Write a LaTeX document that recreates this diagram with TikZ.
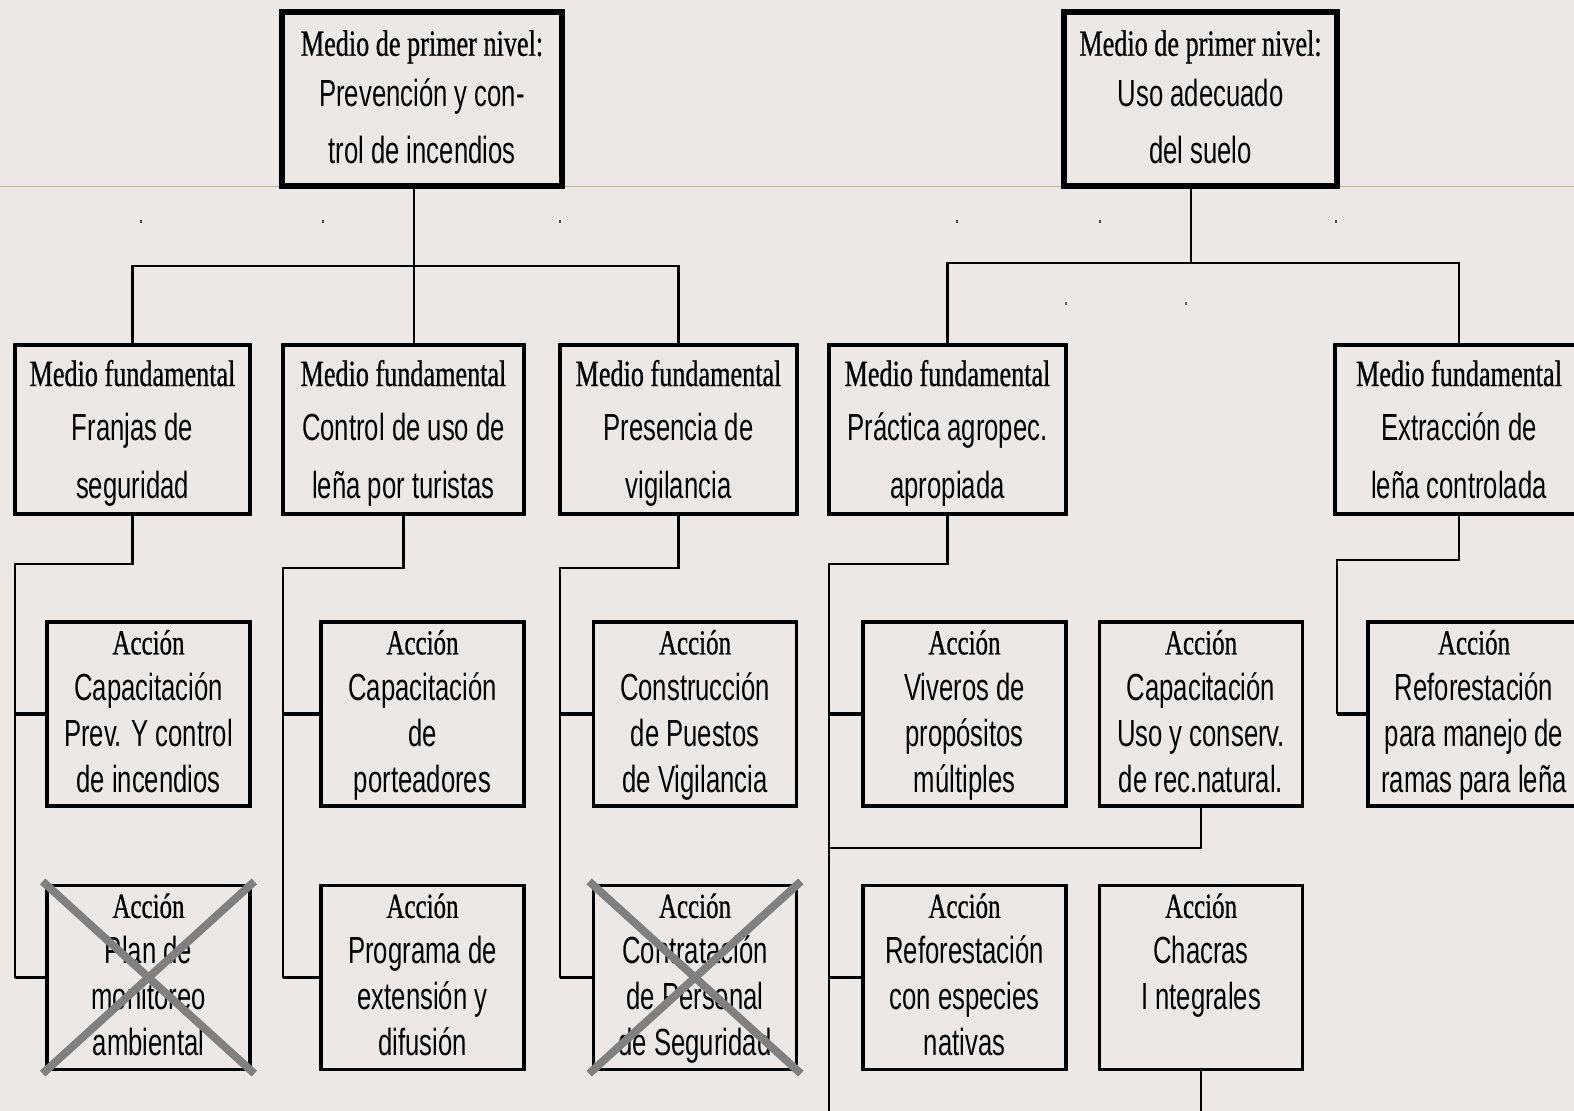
\documentclass[tikz,border=0pt]{standalone}
\usepackage{fontspec}
\usepackage{tikz}

\newfontfamily\headserif[FakeStretch=0.71, FakeBold=0.7]{Liberation Serif}
\newfontfamily\bodysans[FakeStretch=0.68]{Liberation Sans}

\definecolor{paper}{RGB}{236,232,229}
\definecolor{guideline}{RGB}{190,184,130}
\definecolor{crossgray}{RGB}{128,128,128}

\newcommand{\toptitle}[1]{{\headserif\fontsize{21}{21}\selectfont #1}}
\newcommand{\mftitle}[1]{{\headserif\fontsize{21}{21}\selectfont #1}}
\newcommand{\actitle}[1]{{\headserif\fontsize{20}{20}\selectfont #1}}

\tikzset{
  topbox/.style={draw, line width=3pt, fill=paper, inner sep=0pt, align=center,
    minimum height=3.48cm, font=\bodysans\fontsize{21.5}{32.4}\selectfont,
    text depth=2.4pt},
  mfbox/.style={draw, line width=2pt, fill=paper, inner sep=0pt, align=center,
    minimum height=3.38cm, font=\bodysans\fontsize{21.5}{33}\selectfont,
    text depth=-3pt},
  actbox/.style={draw, line width=2pt, fill=paper, inner sep=0pt, align=center,
    minimum width=4.06cm, minimum height=3.68cm, font=\bodysans\fontsize{21.5}{26.2}\selectfont,
    text depth=3.2pt},
  link/.style={line width=1.6pt},
  branch/.style={line width=2.2pt},
  crossout/.style={crossgray, line width=4.5pt, shorten <=-2pt, shorten >=-2pt}
}

\begin{document}
\begin{tikzpicture}[x=0.02cm, y=-0.02cm]

  \fill[paper] (0,0) rectangle (1574,1111);
  \useasboundingbox (0,0) rectangle (1574,1111);
  \draw[guideline, line width=0.8pt] (0,186.5) -- (1574,186.5);
  \foreach \x in {140,322,559,956,1099,1335}
    \fill[black!70] (\x,220) rectangle ++(1.6,3.5);
  \foreach \x in {1065,1185}
    \fill[black!60] (\x,302) rectangle ++(1.6,3.5);

  % primer nivel
  \node[topbox, minimum width=5.6cm] (top1) at (422,99)
    {\toptitle{Medio de primer nivel:}\\[-3.4pt] Prevención y con-\\ trol de incendios};
  \node[topbox, minimum width=5.46cm] (top2) at (1200.5,99)
    {\toptitle{Medio de primer nivel:}\\[-3.4pt] Uso adecuado\\ del suelo};

  % medios fundamentales
  \node[mfbox, minimum width=4.7cm] (mf1) at (132.5,429.5)
    {\mftitle{Medio fundamental}\\[-1.7pt] Franjas de\\ seguridad};
  \node[mfbox, minimum width=4.82cm] (mf2) at (403.5,429.5)
    {\mftitle{Medio fundamental}\\[-1.7pt] Control de uso de\\ leña por turistas};
  \node[mfbox, minimum width=4.74cm] (mf3) at (678.5,429.5)
    {\mftitle{Medio fundamental}\\[-1.7pt] Presencia de\\ vigilancia};
  \node[mfbox, minimum width=4.74cm] (mf4) at (947.5,429.5)
    {\mftitle{Medio fundamental}\\[-1.7pt] Práctica agropec.\\ apropiada};
  \node[mfbox, minimum width=4.96cm] (mf5) at (1459,429.5)
    {\mftitle{Medio fundamental}\\[-1.7pt] Extracción de\\ leña controlada};

  % acciones
  \node[actbox] (a1) at (148.5,714)
    {\actitle{Acción}\\ Capacitación\\ Prev. Y control\\ de incendios};
  \node[actbox] (a2) at (148.5,977.5)
    {\actitle{Acción}\\ Plan de\\ monitoreo\\ ambiental};
  \node[actbox] (a3) at (422.5,714)
    {\actitle{Acción}\\ Capacitación\\ de\\ porteadores};
  \node[actbox] (a4) at (422.5,977.5)
    {\actitle{Acción}\\ Programa de\\ extensión y\\ difusión};
  \node[actbox] (a5) at (695,714)
    {\actitle{Acción}\\ Construcción\\ de Puestos\\ de Vigilancia};
  \node[actbox] (a6) at (695,977.5)
    {\actitle{Acción}\\ Contratación\\ de Personal\\ de Seguridad};
  \node[actbox] (a7) at (964.5,714)
    {\actitle{Acción}\\ Viveros de\\ propósitos\\ múltiples};
  \node[actbox] (a8) at (1201,714)
    {\actitle{Acción}\\ Capacitación\\ Uso y conserv.\\ de rec.natural.};
  \node[actbox] (a9) at (964.5,977.5)
    {\actitle{Acción}\\ Reforestación\\ con especies\\ nativas};
  \node[actbox] (a10) at (1201,977.5)
    {\actitle{Acción}\\ Chacras\\ I ntegrales\\ \mbox{}};
  \node[actbox, minimum width=4.24cm] (a11) at (1474,714)
    {\actitle{Acción}\\ Reforestación\\ para manejo de\\ ramas para leña};

  % uniones
  \coordinate (j1) at (414,266);
  \coordinate (j2) at (1191,263);
  \coordinate (s1) at (15,564);
  \coordinate (s2) at (283,568);
  \coordinate (s3) at (560,568);
  \coordinate (s4) at (829,564);
  \coordinate (s5) at (1337,560);
  \coordinate (k4) at (829,848);
  \coordinate (e4) at (829,1120);

  \draw[link] (top1.south -| j1) -- (mf2.north -| j1);
  \draw[link] (mf1.north) |- (j1) -| (mf3.north);
  \draw[link] (top2.south -| j2) -- (j2);
  \draw[link] (mf4.north) |- (j2) -| (mf5.north);

  \draw[link] (mf1.south) |- (s1) -- (s1 |- a2.west);
  \draw[link] (mf2.south) |- (s2) -- (s2 |- a4.west);
  \draw[link] (mf3.south) |- (s3) -- (s3 |- a6.west);
  \draw[link] (mf4.south) |- (s4) -- (e4);
  \draw[link] (a8.south) |- (k4);
  \draw[link] (a10.south) -- (a10.south |- e4);
  \draw[link] (mf5.south) |- (s5) -- (s5 |- a11.west);

  \draw[branch] (s1 |- a1.west) -- (a1.west);
  \draw[branch] (s1 |- a2.west) -- (a2.west);
  \draw[branch] (s2 |- a3.west) -- (a3.west);
  \draw[branch] (s2 |- a4.west) -- (a4.west);
  \draw[branch] (s3 |- a5.west) -- (a5.west);
  \draw[branch] (s3 |- a6.west) -- (a6.west);
  \draw[branch] (s4 |- a7.west) -- (a7.west);
  \draw[branch] (s4 |- a9.west) -- (a9.west);
  \draw[branch] (s5 |- a11.west) -- (a11.west);

  % acciones descartadas
  \draw[crossout] (a2.north west) -- (a2.south east);
  \draw[crossout] (a2.south west) -- (a2.north east);
  \draw[crossout] (a6.north west) -- (a6.south east);
  \draw[crossout] (a6.south west) -- (a6.north east);

\end{tikzpicture}
\end{document}
